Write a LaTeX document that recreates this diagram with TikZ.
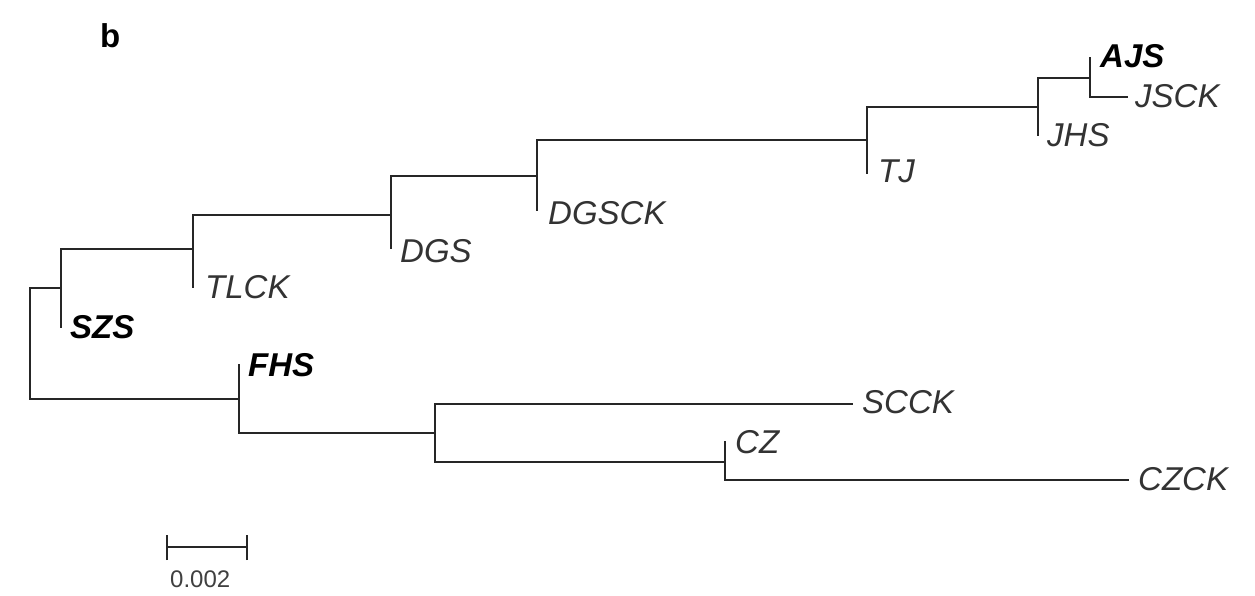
\documentclass[tikz,border=0pt]{standalone}
\usepackage{fontspec}
\setmainfont{Liberation Sans}
\begin{document}
\begin{tikzpicture}[x=1pt,y=-1pt,
  branch/.style={draw=black!85, line width=2pt, line cap=rect},
  taxon/.style={anchor=base west, inner sep=0pt, text=black!80, font=\fontsize{33}{38}\selectfont\itshape},
  taxonbold/.style={taxon, text=black, font=\fontsize{33}{38}\selectfont\bfseries\itshape},
  panel/.style={anchor=base west, inner sep=0pt, font=\fontsize{33}{38}\selectfont\bfseries},
  scalelabel/.style={anchor=base west, inner sep=0pt, text=black!75, font=\fontsize{24}{28}\selectfont}]
\useasboundingbox[fill=white] (0,0) rectangle (1255,596);
% internal nodes
\coordinate (R)  at (30,343);
\coordinate (N1) at (61,288);
\coordinate (N2) at (193,249);
\coordinate (N3) at (391,215);
\coordinate (N4) at (537,176);
\coordinate (N5) at (867,140);
\coordinate (N6) at (1038,107);
\coordinate (N7) at (1090,78);
\coordinate (M1) at (239,399);
\coordinate (M2) at (435,433);
\coordinate (M3) at (725,462);
% leaf tips
\coordinate (tSZS)   at (61,327);
\coordinate (tTLCK)  at (193,287);
\coordinate (tDGS)   at (391,248);
\coordinate (tDGSCK) at (537,210);
\coordinate (tTJ)    at (867,173);
\coordinate (tJHS)   at (1038,135);
\coordinate (tAJS)   at (1090,58);
\coordinate (tJSCK)  at (1127,97);
\coordinate (tFHS)   at (239,365);
\coordinate (tSCCK)  at (852,404);
\coordinate (tCZ)    at (725,442);
\coordinate (tCZCK)  at (1128,480);
% branches
\draw[branch] (R) |- (N1);
\draw[branch] (R) |- (M1);
\draw[branch] (N1) |- (tSZS);
\draw[branch] (N1) |- (N2);
\draw[branch] (N2) |- (tTLCK);
\draw[branch] (N2) |- (N3);
\draw[branch] (N3) |- (tDGS);
\draw[branch] (N3) |- (N4);
\draw[branch] (N4) |- (tDGSCK);
\draw[branch] (N4) |- (N5);
\draw[branch] (N5) |- (tTJ);
\draw[branch] (N5) |- (N6);
\draw[branch] (N6) |- (tJHS);
\draw[branch] (N6) |- (N7);
\draw[branch] (N7) |- (tAJS);
\draw[branch] (N7) |- (tJSCK);
\draw[branch] (M1) |- (tFHS);
\draw[branch] (M1) |- (M2);
\draw[branch] (M2) |- (tSCCK);
\draw[branch] (M2) |- (M3);
\draw[branch] (M3) |- (tCZ);
\draw[branch] (M3) |- (tCZCK);
% labels
\node[taxonbold] (lAJS)   at (1100,68)  {AJS};
\node[taxon]     (lJSCK)  at (1135,108) {JSCK};
\node[taxon]     (lJHS)   at (1047,147) {JHS};
\node[taxon]     (lTJ)    at (878,183)  {TJ};
\node[taxon]     (lDGSCK) at (548,225)  {DGSCK};
\node[taxon]     (lDGS)   at (400,262)  {DGS};
\node[taxon]     (lTLCK)  at (205,298)  {TLCK};
\node[taxonbold] (lSZS)   at (70,338)   {SZS};
\node[taxonbold] (lFHS)   at (248,376)  {FHS};
\node[taxon]     (lSCCK)  at (862,413)  {SCCK};
\node[taxon]     (lCZ)    at (735,453)  {CZ};
\node[taxon]     (lCZCK)  at (1138,490) {CZCK};
\node[panel]     (lb)     at (100,48)   {b};
% scale bar
\coordinate (sL) at (167,547);
\coordinate (sR) at (247,547);
\draw[branch, line cap=butt] (sL) -- (sR);
\draw[branch, line cap=butt] ([yshift=-13]sL) -- ([yshift=12]sL);
\draw[branch, line cap=butt] ([yshift=-13]sR) -- ([yshift=12]sR);
\node[scalelabel] (lscale) at (170,587) {0.002};
\end{tikzpicture}
\end{document}
